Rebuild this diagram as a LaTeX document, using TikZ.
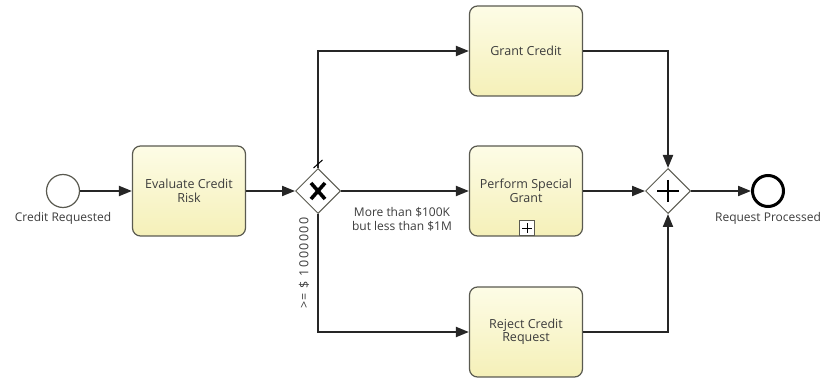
\documentclass[tikz,border=0pt]{standalone}
\usepackage{fontspec}
\setmainfont{Open Sans}
\usetikzlibrary{shapes.geometric,arrows.meta,calc}
\definecolor{tasktop}{HTML}{FDFCE6}
\definecolor{taskbot}{HTML}{F5F0B8}
\definecolor{edgegray}{HTML}{5A5A50}
\definecolor{txt}{HTML}{3C3C3C}
\tikzset{
  task/.style={draw=edgegray, line width=1.2pt, rounded corners=8pt, top color=tasktop, bottom color=taskbot,
    minimum width=113pt, minimum height=90pt, align=center, text=txt, font=\fontsize{12.5}{13.5}\selectfont, inner sep=2pt},
  gateway/.style={diamond, draw=edgegray, line width=1pt, fill=white, minimum size=45pt, inner sep=0pt},
  startev/.style={circle, draw=edgegray, line width=1.2pt, fill=white, minimum size=33pt, inner sep=0pt},
  endev/.style={circle, draw=black, line width=3pt, fill=white, minimum size=31pt, inner sep=0pt},
  flow/.style={draw=black!85, line width=2pt, -{Triangle[length=13pt,width=10pt]}},
  lbl/.style={text=txt, font=\fontsize{12}{14}\selectfont, align=center, inner sep=0pt},
}
\begin{document}
\begin{tikzpicture}[x=1pt,y=-1pt]
\useasboundingbox (0,0) rectangle (833,379);
% events
\node[startev] (start) at (63,191) {};
\node[lbl] (startlbl) at (63,218) {Credit Requested};
\node[endev] (end) at (768,191) {};
\node[lbl] (endlbl) at (768,218) {Request Processed};
% tasks
\node[task] (eval) at (189,191) {Evaluate Credit\\Risk};
\node[task] (grant) at (526,51) {Grant Credit};
\node[task] (special) at (526,191) {Perform Special\\Grant};
\node[task] (reject) at (526,332) {Reject Credit\\Request};
% sub-process marker
\draw[edgegray, line width=1pt, fill=white] (519.5,221) rectangle (534.5,236);
\draw[black, line width=1pt] (522,228.5) -- (532,228.5) (527,223.5) -- (527,233.5);
% gateways
\node[gateway] (xgw) at (318,191) {};
\draw[black, line width=3.6pt] ($(xgw)+(-7,-8)$) -- ($(xgw)+(7,8)$) ($(xgw)+(7,-8)$) -- ($(xgw)+(-7,8)$);
\node[gateway] (pgw) at (668,191) {};
\draw[black, line width=2.6pt] ($(pgw)+(-11,0)$) -- ($(pgw)+(11,0)$) ($(pgw)+(0,-11)$) -- ($(pgw)+(0,11)$);
% flows
\draw[flow] (start) -- (eval);
\draw[flow] (eval) -- (xgw);
\draw[flow] (xgw.north) |- (grant.west);
\draw[flow] (xgw) -- (special);
\draw[flow] (xgw.south) |- (reject.west);
\draw[flow] (grant.east) -| (pgw.north);
\draw[flow] (special) -- (pgw);
\draw[flow] (reject.east) -| (pgw.south);
\draw[flow] (pgw) -- (end);
% default marker
\coordinate (d1) at (313.5,168);
\coordinate (d2) at (322.5,160);
\draw[black, line width=1pt] (d1) -- (d2);
% labels
\node[lbl] (midlbl) at (402,219) {More than \$100K\\but less than \$1M};
\node[lbl, rotate=90, font=\fontsize{12.5}{14}\selectfont\addfontfeature{LetterSpace=12}] (botlbl) at (304,263) {>= \$ 1000000};
\end{tikzpicture}
\end{document}
